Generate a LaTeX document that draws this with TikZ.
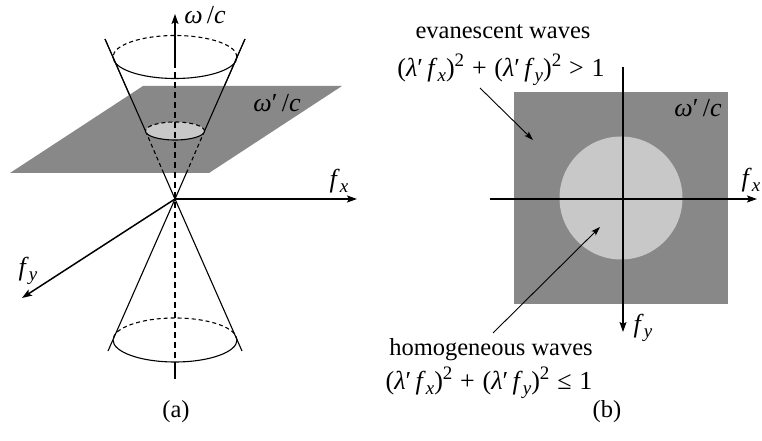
\documentclass[tikz,border=0pt]{standalone}
\usepackage{fontspec}
\setmainfont{Liberation Serif}
\usetikzlibrary{arrows.meta}
\definecolor{planegray}{HTML}{888888}
\definecolor{lightdisk}{HTML}{C8C8C8}
\newcommand{\mysub}[1]{\raisebox{-5pt}{\fontsize{19}{19}\selectfont\itshape #1}}
\newcommand{\mysup}[1]{\raisebox{10pt}{\fontsize{19}{19}\selectfont #1}}
\newcommand{\mi}[1]{\textit{#1}}
\newcommand{\op}[1]{\hspace{0.3em}#1\hspace{0.3em}}
\tikzset{
  lbl/.style={inner sep=0pt, font=\fontsize{24.5}{28}\selectfont},
  mlbl/.style={inner sep=0pt, font=\fontsize{26}{30}\selectfont},
  axis/.style={line width=1.5pt, -{Stealth[length=10pt,width=7pt,inset=2pt]}},
  axisline/.style={line width=1.5pt},
  cone/.style={line width=1.1pt},
  hid/.style={line width=1.1pt, dash pattern=on 4pt off 3pt},
  hidaxis/.style={line width=1.5pt, dash pattern=on 6pt off 4pt},
  pointer/.style={line width=0.9pt, -{Stealth[length=9pt,width=6pt,inset=2pt]}},
}
\begin{document}
\begin{tikzpicture}[x=1pt,y=1pt]
\useasboundingbox (0,0) rectangle (762,441);
% ---------- panel (a) ----------
\coordinate (O) at (175,242);
\coordinate (Wtip) at (175,427);
\coordinate (Wsolid) at (175,379);
\coordinate (Bsolid) at (175,79);
\coordinate (Bend) at (175,62);
\coordinate (TL) at (105,402);
\coordinate (TR) at (245,402);
\coordinate (BL) at (108,90);
\coordinate (BR) at (242,90);
\coordinate (SL) at (145.5,310);
\coordinate (SR) at (204.5,310);
\coordinate (PL) at (163.6,268);
\coordinate (PR) at (186.4,268);
\coordinate (FX) at (357,242);
\coordinate (FY) at (22,143);
% upper cone full lines (partly hidden by plane)
\draw[cone] (O) -- (TL);
\draw[cone] (O) -- (TR);
% plane
\fill[planegray] (143,355) -- (342,355) -- (209,268) -- (10,268) -- cycle;
% cone lines above plane
\draw[cone] (SL) -- (TL);
\draw[cone] (SR) -- (TR);
\draw[hid] (SL) -- (PL);
\draw[hid] (SR) -- (PR);
% small disk
\fill[lightdisk] (175,310) ellipse [x radius=29.5, y radius=9];
\draw[hid] (SR) arc[start angle=0, end angle=180, x radius=29.5, y radius=9];
\draw[cone] (SL) arc[start angle=180, end angle=360, x radius=29.5, y radius=9];
% top ellipse
\draw[hid] (237,384) arc[start angle=0, end angle=180, x radius=62, y radius=21.5];
\draw[cone] (113,384) arc[start angle=180, end angle=360, x radius=62, y radius=21.5];
% lower cone
\draw[cone] (O) -- (BL);
\draw[cone] (O) -- (BR);
\draw[hid] (237,101) arc[start angle=0, end angle=180, x radius=62, y radius=22];
\draw[cone] (113,101) arc[start angle=180, end angle=360, x radius=62, y radius=22];
% vertical axis
\draw[axis] (Wsolid) -- (Wtip);
\draw[hidaxis] (Wsolid) -- (Bsolid);
\draw[axisline] (Bsolid) -- (Bend);
% horizontal axes
\draw[axis] (O) -- (FX);
\draw[axis] (O) -- (FY);
% labels
\node[mlbl] (lw) at (205,426) {\mi{ω}\,/\mi{c}};
\node[mlbl] (lwp) at (277,338) {\mi{ω}′\,/\mi{c}};
\node[mlbl] (lfx) at (339,260) {\mi{f}\mysub{x}};
\node[mlbl] (lfy) at (28,170) {\mi{f}\mysub{y}};
\node[lbl] (la) at (176,29) {(a)};
% ---------- panel (b) ----------
\fill[planegray] (514,137) rectangle (728,349);
\fill[lightdisk] (621,243) circle [radius=61.5];
\coordinate (Vtop) at (623,374);
\coordinate (Vtip) at (623,109);
\coordinate (Hleft) at (490,242);
\coordinate (Htip) at (757,242);
\draw[axis] (Vtop) -- (Vtip);
\draw[axis] (Hleft) -- (Htip);
\node[mlbl] (bfx) at (751,261) {\mi{f}\mysub{x}};
\node[mlbl] (bfy) at (643,113) {\mi{f}\mysub{y}};
\node[mlbl] (bwp) at (698,333) {\mi{ω}′\,/\mi{c}};
\node[lbl] (ev) at (503,409) {evanescent waves};
\node[mlbl] (evf) at (501,371) {(\mi{λ}′\,\mi{f}\mysub{x})\mysup{2}\op{+}(\mi{λ}′\,\mi{f}\mysub{y})\mysup{2}\op{>}1};
\coordinate (evs) at (480,353);
\coordinate (eve) at (533,301);
\draw[pointer] (evs) -- (eve);
\node[lbl] (ho) at (491,91) {homogeneous waves};
\node[mlbl] (hof) at (489,58) {(\mi{λ}′\,\mi{f}\mysub{x})\mysup{2}\op{+}(\mi{λ}′\,\mi{f}\mysub{y})\mysup{2}\op{≤}1};
\coordinate (hos) at (493,108);
\coordinate (hoe) at (600,214);
\draw[pointer] (hos) -- (hoe);
\node[lbl] (lb) at (607,29) {(b)};
\end{tikzpicture}
\end{document}
